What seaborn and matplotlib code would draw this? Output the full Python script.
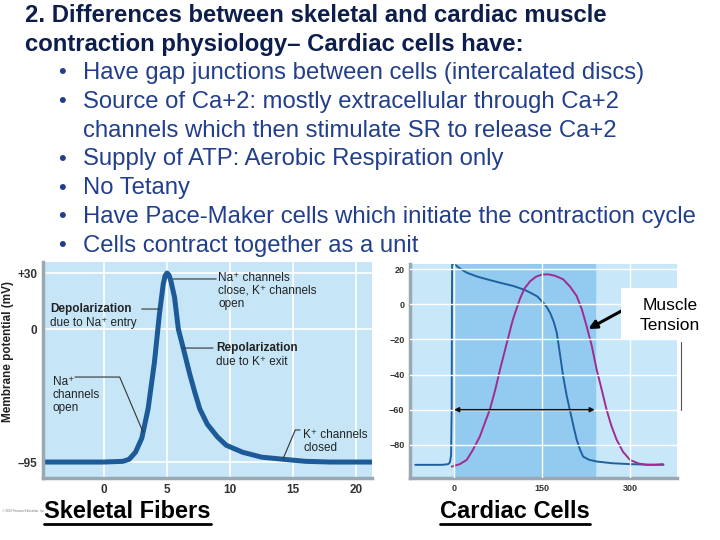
import numpy as np
import pandas as pd
import seaborn as sns
import matplotlib.pyplot as plt
from matplotlib.lines import Line2D

sns.set_theme(style="white")
plt.rcParams['font.family'] = ['Liberation Sans', 'DejaVu Sans']

# skeletal action potential (ms, mV)
skel_t = [-4.8, -2, 0, 1.5, 2.0, 2.5, 3.0, 3.5, 4.0, 4.4, 4.7, 4.85, 5.0, 5.15, 5.3,
          5.6, 5.9, 6.3, 6.8, 7.2, 7.6, 8.2, 9.0, 9.7, 11, 12.5, 14.2, 16, 18, 21.3]
skel_mv = [-95, -95, -95, -94.5, -93, -88, -78, -57, -24, 8, 24, 28.5, 30, 29, 26,
           17, 0, -14, -32, -45, -57, -68, -77, -83, -88, -91.5, -93, -94.5, -95, -95]

# cardiac action potential (ms, mV)
card_t = [-66, -20, -10, -7, -5, -4, -3.5, -3, 0, 10, 22, 40, 56, 80, 101, 120, 130,
          142, 152, 158, 164, 170, 175, 180, 186, 192, 198, 204, 209, 215, 220, 230,
          243, 270, 300, 330, 357]
card_mv = [-91.4, -91.4, -91, -90, -86, -60, 0, 30, 23, 20.5, 18, 15.8, 14.3, 12.2,
           10.5, 8.3, 6.7, 4.5, 1, -1.5, -5, -10, -16, -27, -41, -52, -61, -70, -77,
           -83, -86.7, -88.5, -89.5, -90.5, -91, -91.3, -91.4]

# muscle tension curve (same scale)
tens_t = [-4, 10, 21.6, 32, 44, 52, 61, 70, 80, 90, 100, 112, 120, 130, 140, 150, 161,
          172, 186, 198, 209, 218, 226, 235, 243, 252, 260, 268, 277, 288, 300, 314,
          328, 342, 356]
tens_mv = [-92.4, -91, -88.6, -83, -75.3, -68, -60, -49, -35, -22, -9, 2.9, 9, 13.3,
           15.8, 17, 17.1, 16.3, 14.3, 10, 4.8, -3, -12.4, -24, -37, -49, -60, -69,
           -77, -84, -88.6, -90.6, -91.4, -91.4, -91]

refractory_end = 240
skel_yticks = [30, 0, -95]
skel_ylabels = ['+30', '0', '\u201395']
skel_xticks = [0, 5, 10, 15, 20]
card_yticks = [20, 0, -20, -40, -60, -80]
card_xticks = [0, 150, 300]

title_lines = ["2. Differences between skeletal and cardiac muscle",
               "contraction physiology\u2013 Cardiac cells have:"]
bullets = [("Have gap junctions between cells (intercalated discs)", True),
           ("Source of Ca+2: mostly extracellular through Ca+2", True),
           ("channels which then stimulate SR to release Ca+2", False),
           ("Supply of ATP: Aerobic Respiration only", True),
           ("No Tetany", True),
           ("Have Pace-Maker cells which initiate the contraction cycle", True),
           ("Cells contract together as a unit", True)]

W, H = 720, 540
fig = plt.figure(figsize=(7.2, 5.4), dpi=100)


def fx(x):
    return x / W


def fy(y):
    return 1 - y / H


# ---------------- left chart: skeletal fibre
ax1 = fig.add_axes([fx(43), fy(478), fx(372 - 43), (478 - 262) / H])
k = 1.333


def fwd(y):
    y = np.asarray(y, float)
    return np.where(y > 0, y * k, y)


def inv(v):
    v = np.asarray(v, float)
    return np.where(v > 0, v / k, v)


ax1.set_yscale('function', functions=(fwd, inv))
ax1.set_facecolor('#c6e6f8')
sdf = pd.DataFrame({'t': skel_t, 'mv': skel_mv})
sns.lineplot(data=sdf, x='t', y='mv', ax=ax1, color='#1c5b98', linewidth=3.6, sort=False)
ax1.set_xlim(-4.84, 21.27)
ax1.set_ylim(-106.4, 35.9)
ax1.set_yticks(skel_yticks)
ax1.set_yticklabels(skel_ylabels)
ax1.set_xticks(skel_xticks)
ax1.grid(True, color='white', linewidth=1.2)
ax1.set_axisbelow(True)
ax1.set_xlabel('')
ax1.set_ylabel('')
ax1.tick_params(length=0, labelsize=8.5, labelcolor='#333333', pad=4)
for s in ['top', 'right']:
    ax1.spines[s].set_visible(False)
for s in ['left', 'bottom']:
    ax1.spines[s].set_color('#9aa8b4')
    ax1.spines[s].set_linewidth(2.5)
for lab in ax1.get_xticklabels() + ax1.get_yticklabels():
    lab.set_fontweight('bold')

afs = 8.5
acol = '#222222'
lp = dict(arrowstyle='-', color='#333333', linewidth=0.8, shrinkA=0, shrinkB=0)
ax1.text(9.05, 30.5, "Na\u207a channels\nclose, K\u207a channels\nopen", fontsize=afs,
         color=acol, va='top', ha='left', linespacing=1.1)
ax1.annotate('', xy=(5.5, 26.8), xytext=(8.9, 26.8), arrowprops=lp)
ax1.text(-4.29, 10.7, "Depolarization", fontsize=afs, fontweight='bold', color=acol,
         va='center', ha='left')
ax1.text(-4.29, 3.0, "due to Na\u207a entry", fontsize=afs, color=acol, va='center', ha='left')
ax1.annotate('', xy=(4.44, 10.7), xytext=(3.0, 10.7), arrowprops=lp)
ax1.text(8.9, -13.6, "Repolarization", fontsize=afs, fontweight='bold', color=acol,
         va='center', ha='left')
ax1.text(8.9, -23.6, "due to K\u207a exit", fontsize=afs, color=acol, va='center', ha='left')
ax1.annotate('', xy=(6.27, -13.6), xytext=(8.65, -13.6), arrowprops=lp)
ax1.text(-4.05, -33.5, "Na\u207a\nchannels\nopen", fontsize=afs, color=acol, va='top',
         ha='left', linespacing=1.1)
ax1.annotate('', xy=(3.1, -73.6), xytext=(-2.3, -34.3),
             arrowprops=dict(lp, connectionstyle='angle,angleA=0,angleB=113,rad=0'))
ax1.text(15.8, -71.5, "K\u207a channels\nclosed", fontsize=afs, color=acol, va='top',
         ha='left', linespacing=1.1)
ax1.annotate('', xy=(14.2, -92.9), xytext=(15.56, -72.1),
             arrowprops=dict(lp, connectionstyle='angle,angleA=0,angleB=67,rad=0'))

fig.text(fx(8), fy(352), "Membrane potential (mV)", rotation=90, fontsize=8.5,
         fontweight='bold', color='#222222', ha='center', va='center')

# ---------------- right chart: cardiac cells
ax2 = fig.add_axes([fx(410), fy(478), fx(677 - 410), (478 - 264) / H])
ax2.set_facecolor('#c8e8fa')
ax2.axvspan(0, refractory_end, color='#92cbef', zorder=0)
cdf = pd.DataFrame({'t': card_t, 'mv': card_mv})
tdf = pd.DataFrame({'t': tens_t, 'mv': tens_mv})
sns.lineplot(data=cdf, x='t', y='mv', ax=ax2, color='#2060a0', linewidth=1.4, sort=False)
sns.lineplot(data=tdf, x='t', y='mv', ax=ax2, color='#a02c90', linewidth=1.4, sort=False)
ax2.set_xlim(-75, 380)
ax2.set_ylim(-98.9, 23.0)
ax2.set_yticks(card_yticks)
ax2.set_yticklabels([str(v).replace('-', '\u2212') for v in card_yticks])
ax2.set_xticks(card_xticks)
ax2.grid(True, color='white', linewidth=1.0)
ax2.set_axisbelow(False)
for gl in ax2.get_xgridlines() + ax2.get_ygridlines():
    gl.set_zorder(0.5)
ax2.set_xlabel('')
ax2.set_ylabel('')
ax2.tick_params(length=0, labelsize=6.5, labelcolor='#333333', pad=4)
for s in ['top', 'right']:
    ax2.spines[s].set_visible(False)
for s in ['left', 'bottom']:
    ax2.spines[s].set_color('#9aa8b4')
    ax2.spines[s].set_linewidth(2.5)
for lab in ax2.get_xticklabels() + ax2.get_yticklabels():
    lab.set_fontweight('bold')
ax2.annotate('', xy=(0, -60), xytext=(refractory_end, -60),
             arrowprops=dict(arrowstyle='<|-|>', color='#111111', linewidth=1.1,
                             shrinkA=0, shrinkB=0, mutation_scale=7))

# Muscle Tension label
fig.patches.append(plt.Rectangle((fx(621), fy(340)), fx(705 - 621), (340 - 288) / H,
                                 transform=fig.transFigure, facecolor='white',
                                 edgecolor='none', zorder=5))
fig.text(fx(670), fy(305), "Muscle", fontsize=12.5, ha='center', va='center', color='black',
         zorder=6)
fig.text(fx(670), fy(326), "Tension", fontsize=12.5, ha='center', va='center', color='black',
         zorder=6)
fig.add_artist(Line2D([fx(681), fx(681)], [fy(342), fy(410)], transform=fig.transFigure,
                      color='#555555', linewidth=0.8))
ax2.annotate('', xy=(229, -14), xytext=(fx(636), fy(303)), textcoords='figure fraction',
             arrowprops=dict(arrowstyle='-|>', color='black', linewidth=2.2,
                             shrinkA=0, shrinkB=0, mutation_scale=12), zorder=7)

# ---------------- slide text
tcol = '#0d1e4c'
bcol = '#223f8c'
for i, line in enumerate(title_lines):
    fig.text(fx(25), fy(16 + 28 * i), line, fontsize=17.2, fontweight='bold', color=tcol,
             ha='left', va='center')
for i, (line, dot) in enumerate(bullets):
    y = 73 + 28.8 * i
    if dot:
        fig.text(fx(62), fy(y), "\u2022", fontsize=16, color=bcol, ha='center', va='center')
    fig.text(fx(83), fy(y), line, fontsize=17.2, color=bcol, ha='left', va='center')

lab1 = fig.text(fx(44), fy(511), "Skeletal Fibers", fontsize=17, fontweight='bold',
                ha='left', va='center', color='black')
lab2 = fig.text(fx(440), fy(511), "Cardiac Cells", fontsize=17, fontweight='bold',
                ha='left', va='center', color='black')
fig.text(fx(2), fy(511), "\u00a9 2013 Pearson Education, Inc.", fontsize=2.2,
         color='#777777', ha='left', va='center')

fig.canvas.draw()
r = fig.canvas.get_renderer()
inv_fig = fig.transFigure.inverted()
for t in (lab1, lab2):
    bb = t.get_window_extent(r)
    (x0, y0), (x1, _) = inv_fig.transform([[bb.x0, bb.y0], [bb.x1, bb.y1]])
    fig.add_artist(Line2D([x0, x1], [y0 - 0.002, y0 - 0.002], transform=fig.transFigure,
                          color='black', linewidth=2))

fig.savefig('out.png', dpi=100)
